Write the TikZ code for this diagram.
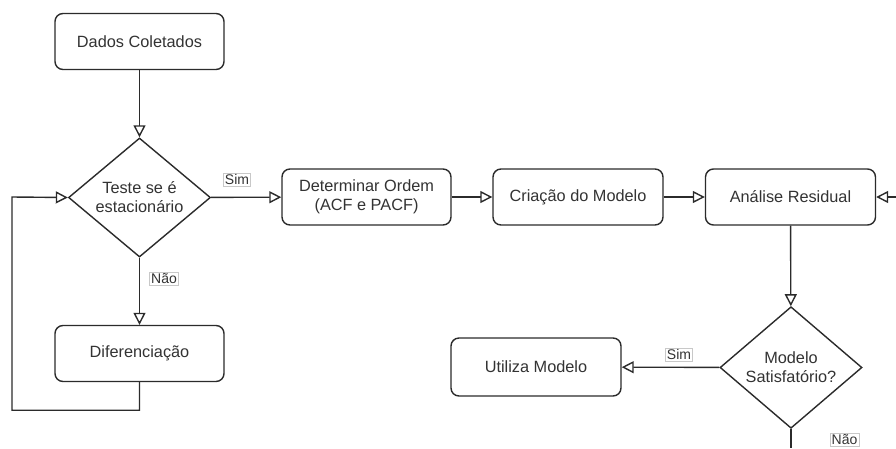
\documentclass[tikz,border=0pt]{standalone}
\usepackage{fontspec}
\setmainfont{Liberation Sans}
\usetikzlibrary{shapes.geometric,arrows.meta}
\definecolor{ink}{HTML}{333333}
\definecolor{edge}{HTML}{2B2B2B}
\definecolor{tagline}{HTML}{C8C8C8}
\tikzset{
  box/.style={draw=edge, line width=1.4pt, rounded corners=8pt, fill=white,
    minimum width=169pt, minimum height=56pt, inner sep=2pt, align=center,
    text=ink, font=\fontsize{16.3}{19}\selectfont},
  decision/.style={draw=edge, line width=1.4pt, diamond, fill=white,
    minimum width=142pt, minimum height=111pt, inner sep=0pt, align=center,
    text=ink, font=\fontsize{16.3}{19}\selectfont},
  flow/.style={draw=edge, line width=1.4pt,
    -{Triangle[open, length=12pt, width=12pt, line width=1.4pt]}},
  tag/.style={draw=tagline, line width=0.6pt, fill=white, text=ink,
    inner xsep=1.5pt, inner ysep=1.5pt, font=\fontsize{14}{16}\selectfont}
}
\begin{document}
\begin{tikzpicture}[x=1pt, y=-1pt]
  \useasboundingbox (0,0) rectangle (896,448);

  % process steps
  \node[box] (dados) at (139.5,41.5) {Dados Coletados};
  \node[decision] (teste) at (139.5,197.5) {Teste se é\\estacionário};
  \node[box] (diff) at (139.5,353.5) {Diferenciação};
  \node[box] (ordem) at (366.5,197) {Determinar Ordem\\(ACF e PACF)};
  \node[box, minimum width=170pt] (cria) at (578,197) {Criação do Modelo};
  \node[box, minimum width=170pt] (anal) at (790.5,197) {Análise Residual};
  \node[decision] (sat) at (791,367.5) {Modelo\\Satisfatório?};
  \node[box, minimum width=170pt, minimum height=58pt] (usa) at (536,367) {Utiliza Modelo};

  % loose ends of the return loop
  \coordinate (loopin) at (896,197);
  \coordinate (loopout) at (791,448);

  % connectors
  \draw[flow] (dados) -- (teste);
  \draw[flow] (teste) -- (ordem);
  \draw[flow] (teste) -- (diff);
  \draw[flow] (diff.south) -- ++(0,28) -| (12,197) -- (teste.west);
  \draw[flow] (ordem) -- (cria);
  \draw[flow] (cria) -- (anal);
  \draw[flow] (anal) -- (sat);
  \draw[flow] (sat) -- (usa);
  \draw[flow] (loopin) -- (anal.east);
  \draw[draw=edge, line width=1.4pt] (sat.south) -- (loopout);

  % branch labels
  \node[tag] (sim1) at (237,179.5) {Sim};
  \node[tag] (nao1) at (164,279) {Não};
  \node[tag] (sim2) at (679,354.5) {Sim};
  \node[tag] (nao2) at (844.5,440) {Não};
\end{tikzpicture}
\end{document}
